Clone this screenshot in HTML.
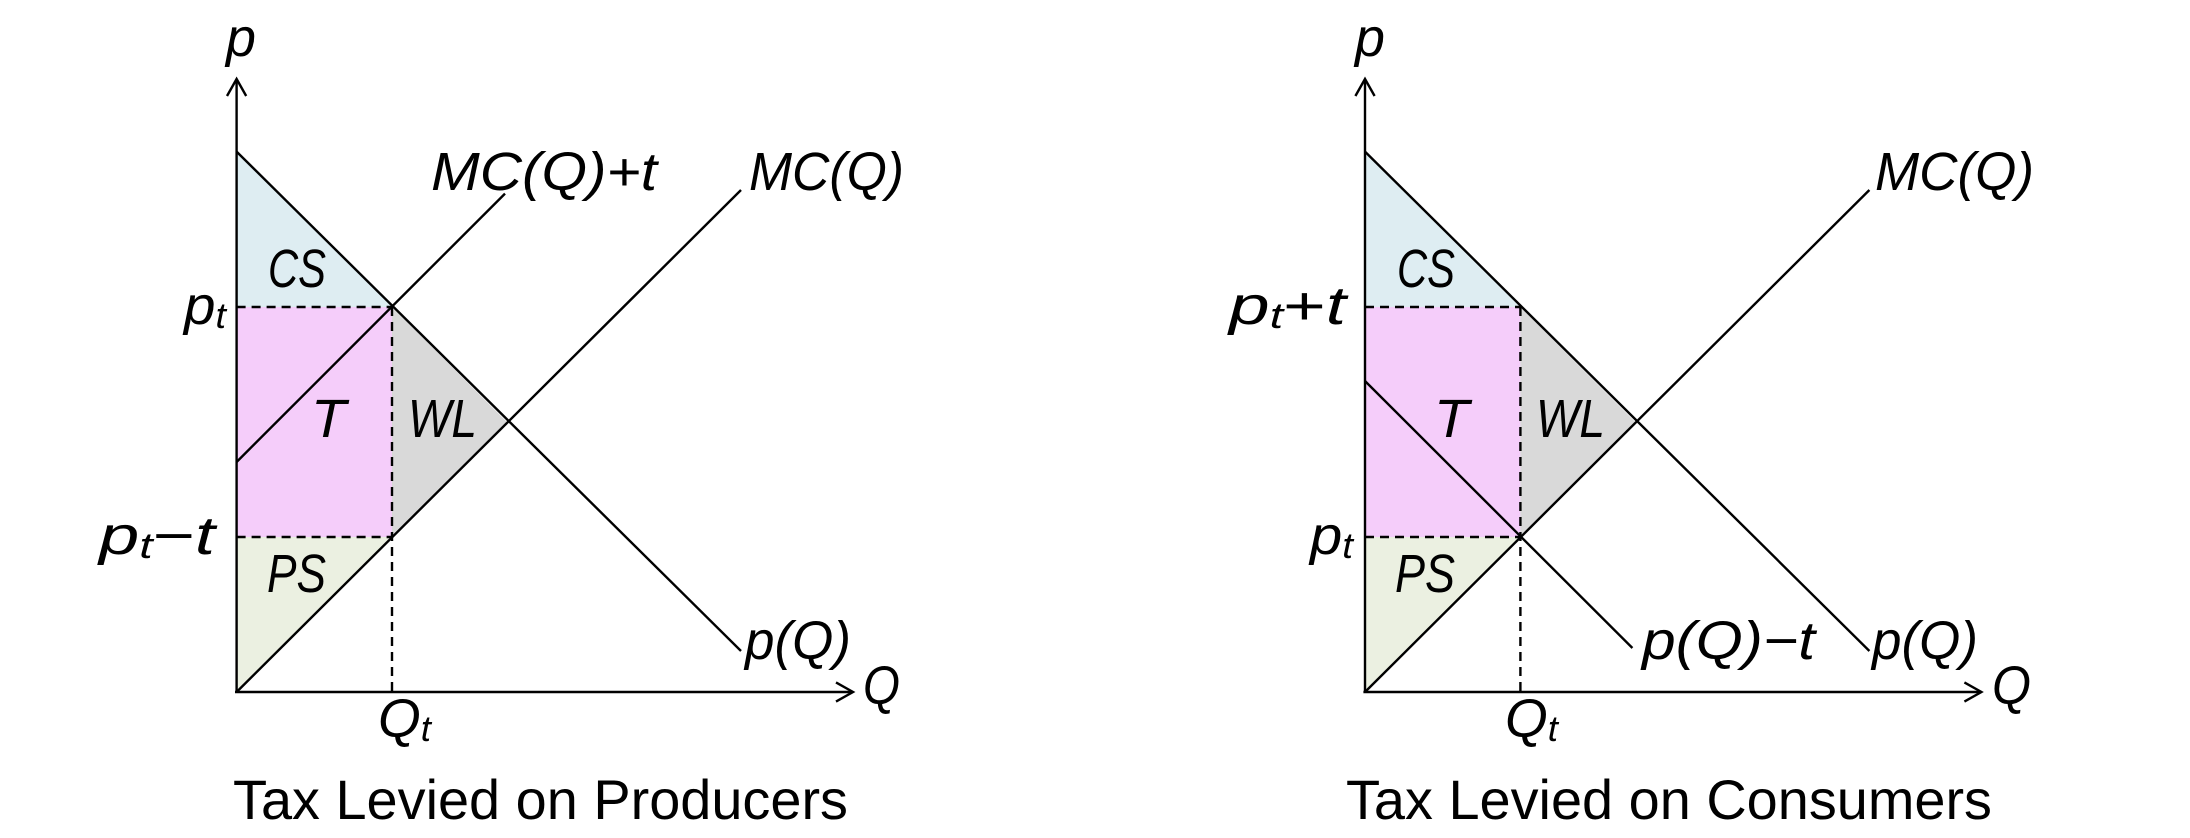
<!DOCTYPE html>
<html><head><meta charset="utf-8"><style>
html,body{margin:0;padding:0;background:#fff;}
svg{display:block;}
text{font-family:"Liberation Sans",sans-serif;font-style:italic;font-size:54px;fill:#000;}
.t{font-style:normal;font-size:56px;}
</style></head><body>
<svg width="2190" height="838" viewBox="0 0 2190 838" xmlns="http://www.w3.org/2000/svg">
<defs>
<g id="fills">
<polygon points="236.6,151.6 392,307 236.6,307" fill="#deedf2"/>
<polygon points="236.6,307 392,307 392,537 236.6,537" fill="#f5cdfa"/>
<polygon points="392,307 507,422 392,537" fill="#d9d9d9"/>
<polygon points="236.6,537 392,537 236.6,692" fill="#ebf0e1"/>
</g>
<g id="common" stroke="#000" stroke-width="2.4" fill="none">
<line x1="236.6" y1="151.6" x2="741" y2="651"/>
<line x1="236.6" y1="692" x2="741" y2="190"/>
<line x1="236.6" y1="307" x2="392" y2="307" stroke-dasharray="9,6"/>
<line x1="236.6" y1="537" x2="392" y2="537" stroke-dasharray="9,6"/>
<line x1="392" y1="307" x2="392" y2="692" stroke-dasharray="9,6"/>
<line x1="236.6" y1="693" x2="236.6" y2="79"/>
<polyline points="227,96 236.6,79 246.2,96"/>
<line x1="235" y1="692" x2="853" y2="692"/>
<polyline points="836,682.4 853,692 836,701.6"/>
</g>
</defs>

<use href="#fills"/>
<use href="#common"/>
<line x1="236.6" y1="462" x2="505" y2="193.6" stroke="#000" stroke-width="2.4"/>
<text x="226" y="56" textLength="30" lengthAdjust="spacingAndGlyphs">p</text>
<text x="431" y="190" textLength="226" lengthAdjust="spacingAndGlyphs">MC(Q)+t</text>
<text x="749" y="190" textLength="155" lengthAdjust="spacingAndGlyphs">MC(Q)</text>
<text x="268" y="287" textLength="58" lengthAdjust="spacingAndGlyphs">CS</text>
<text x="184" y="324" textLength="42" lengthAdjust="spacingAndGlyphs">p<tspan font-size="36" dy="4">t</tspan></text>
<text x="311" y="437" textLength="35" lengthAdjust="spacingAndGlyphs">T</text>
<text x="408" y="437" textLength="69" lengthAdjust="spacingAndGlyphs">WL</text>
<text x="99" y="554" textLength="116" lengthAdjust="spacingAndGlyphs">p<tspan font-size="36" dy="4">t</tspan><tspan dy="-4" font-style="normal">−</tspan>t</text>
<text x="267" y="592" textLength="59" lengthAdjust="spacingAndGlyphs">PS</text>
<text x="745" y="659" textLength="106" lengthAdjust="spacingAndGlyphs">p(Q)</text>
<text x="863" y="704" textLength="37" lengthAdjust="spacingAndGlyphs">Q</text>
<text x="378" y="737" textLength="53" lengthAdjust="spacingAndGlyphs">Q<tspan font-size="36" dy="4">t</tspan></text>
<text class="t" x="233" y="819" textLength="615" lengthAdjust="spacingAndGlyphs">Tax Levied on Producers</text>

<g transform="translate(1128.4,0)">
<use href="#fills"/>
<use href="#common"/>
<line x1="236.6" y1="381" x2="504" y2="648" stroke="#000" stroke-width="2.4"/>
</g>
<text x="1355" y="56" textLength="30" lengthAdjust="spacingAndGlyphs">p</text>
<text x="1875" y="190" textLength="159" lengthAdjust="spacingAndGlyphs">MC(Q)</text>
<text x="1397" y="287" textLength="58" lengthAdjust="spacingAndGlyphs">CS</text>
<text x="1229" y="324" textLength="117" lengthAdjust="spacingAndGlyphs">p<tspan font-size="36" dy="4">t</tspan><tspan dy="-4" font-style="normal">+</tspan>t</text>
<text x="1434" y="437" textLength="35" lengthAdjust="spacingAndGlyphs">T</text>
<text x="1536" y="437" textLength="69" lengthAdjust="spacingAndGlyphs">WL</text>
<text x="1310" y="554" textLength="43" lengthAdjust="spacingAndGlyphs">p<tspan font-size="36" dy="4">t</tspan></text>
<text x="1395" y="592" textLength="60" lengthAdjust="spacingAndGlyphs">PS</text>
<text x="1642" y="659" textLength="173" lengthAdjust="spacingAndGlyphs">p(Q)−t</text>
<text x="1872" y="659" textLength="106" lengthAdjust="spacingAndGlyphs">p(Q)</text>
<text x="1992" y="704" textLength="39" lengthAdjust="spacingAndGlyphs">Q</text>
<text x="1505" y="737" textLength="53" lengthAdjust="spacingAndGlyphs">Q<tspan font-size="36" dy="4">t</tspan></text>
<text class="t" x="1346" y="819" textLength="646" lengthAdjust="spacingAndGlyphs">Tax Levied on Consumers</text>
</svg>
</body></html>
